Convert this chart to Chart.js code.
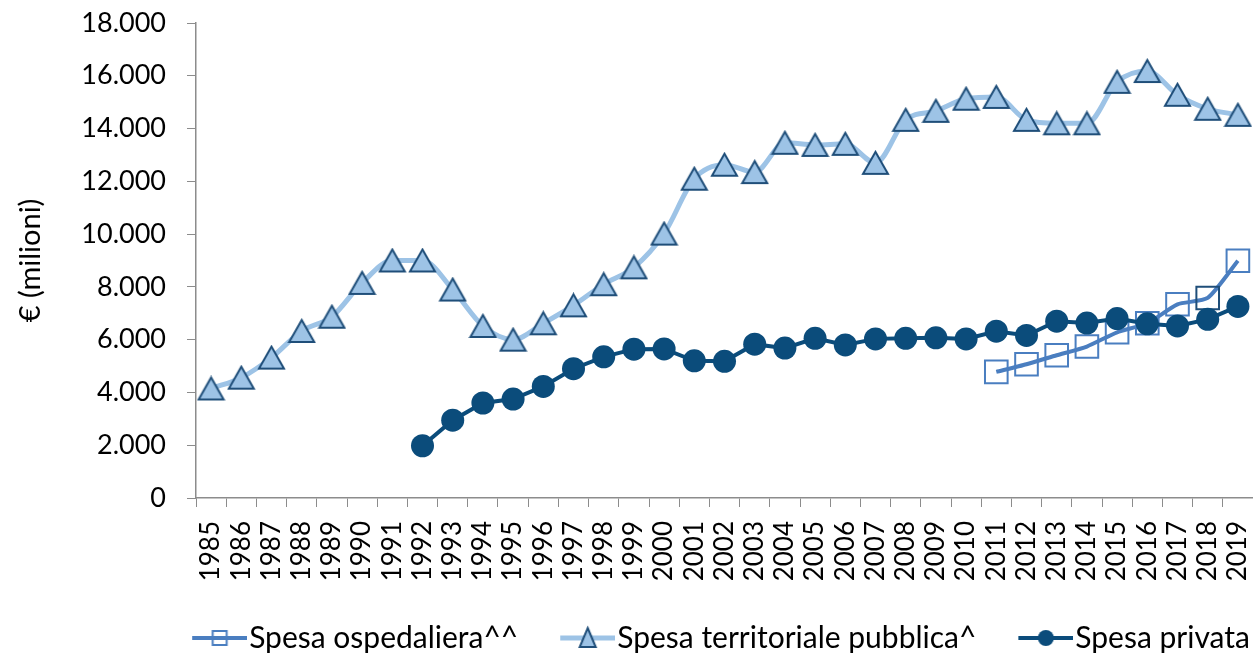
<!DOCTYPE html>
<html>
<head>
<meta charset="utf-8">
<script src="https://cdn.jsdelivr.net/npm/chart.js@4/dist/chart.umd.min.js"></script>
<style>
  html, body { margin: 0; padding: 0; background: #fff; }
  #wrap { width: 1253px; height: 655px; position: relative; }
</style>
</head>
<body>
<div id="wrap"><canvas id="chart"></canvas></div>
<script>
// Years on the x axis
const years = [
    "1985", "1986", "1987", "1988", "1989", "1990", "1991", "1992", "1993", "1994",
    "1995", "1996", "1997", "1998", "1999", "2000", "2001", "2002", "2003", "2004",
    "2005", "2006", "2007", "2008", "2009", "2010", "2011", "2012", "2013", "2014",
    "2015", "2016", "2017", "2018", "2019"
];

// Spesa ospedaliera^^ (from 2011)
const spesaOspedaliera = [
    null, null, null, null, null, null, null, null, null, null,
    null, null, null, null, null, null, null, null, null, null,
    null, null, null, null, null, null, 4780, 5070, 5410, 5740,
    6280, 6620, 7340, 7580, 8990
];

// Spesa territoriale pubblica^
const spesaTerritoriale = [
    4150, 4560, 5320, 6330, 6870, 8150, 9000, 9000, 7900, 6520,
    6000, 6620, 7300, 8100, 8740, 10020, 12100, 12630, 12350, 13460,
    13380, 13420, 12700, 14330, 14670, 15130, 15200, 14330, 14200, 14200,
    15770, 16180, 15280, 14750, 14520
];

// Spesa privata (from 1992)
const spesaPrivata = [
    null, null, null, null, null, null, null, 1980, 2950, 3600,
    3750, 4230, 4900, 5350, 5640, 5650, 5200, 5180, 5830, 5680,
    6050, 5800, 6030, 6050, 6070, 6030, 6320, 6160, 6700, 6630,
    6800, 6600, 6520, 6770, 7260
];

const yTicks = [0, 2000, 4000, 6000, 8000, 10000, 12000, 14000, 16000, 18000];

const FONT = "Lato, 'Open Sans', sans-serif";
const AXIS_GREY = "#8c8c8c";
const C_OSP = "#4a7ec0";
const C_TERR = "#9dc3e6";
const C_TERR_EDGE = "#1f4e79";
const C_PRIV = "#0b4c7b";

function fmtThousands(v) {
    return String(v).replace(/\B(?=(\d{3})+(?!\d))/g, ".");
}

// triangle marker centred on its box, like the spreadsheet markers
function triangleMarker(w, h) {
    const c = document.createElement("canvas");
    c.width = w + 4;
    c.height = h + 4;
    const g = c.getContext("2d");
    g.fillStyle = C_TERR;
    g.strokeStyle = C_TERR_EDGE;
    g.lineWidth = 2;
    g.lineJoin = "miter";
    g.beginPath();
    g.moveTo(c.width / 2, 2);
    g.lineTo(w + 2, h + 2);
    g.lineTo(2, h + 2);
    g.closePath();
    g.fill();
    g.stroke();
    return c;
}

// legend icon: line with the marker in the middle, drawn in the right part
// of the canvas so the icon sits just before the text
function legendIcon(kind) {
    const c = document.createElement("canvas");
    c.width = 104;
    c.height = 26;
    const g = c.getContext("2d");
    const x0 = 49, x1 = 104, cx = (x0 + x1) / 2, cy = 13;
    if (kind === "osp") {
        g.strokeStyle = C_OSP; g.lineWidth = 4;
        g.beginPath(); g.moveTo(x0, cy); g.lineTo(x1, cy); g.stroke();
        g.lineWidth = 2;
        g.strokeRect(cx - 7, cy - 7, 14, 14);
    } else if (kind === "terr") {
        g.strokeStyle = C_TERR; g.lineWidth = 5;
        g.beginPath(); g.moveTo(x0, cy); g.lineTo(x1, cy); g.stroke();
        g.fillStyle = C_TERR; g.strokeStyle = C_TERR_EDGE; g.lineWidth = 2;
        g.beginPath(); g.moveTo(cx, cy - 10); g.lineTo(cx + 8, cy + 9); g.lineTo(cx - 8, cy + 9); g.closePath();
        g.fill(); g.stroke();
    } else {
        g.strokeStyle = C_PRIV; g.lineWidth = 4;
        g.beginPath(); g.moveTo(x0, cy); g.lineTo(x1, cy); g.stroke();
        g.fillStyle = C_PRIV;
        g.beginPath(); g.arc(cx, cy, 8, 0, Math.PI * 2); g.fill();
    }
    return c;
}

const icons = [legendIcon("osp"), legendIcon("terr"), legendIcon("priv")];
const triMarker = triangleMarker(25, 22);

const ospBorders = years.map((y) => (y === "2018" ? C_TERR_EDGE : C_OSP));

const ctx = document.getElementById("chart").getContext("2d");
new Chart(ctx, {
    type: "line",
    data: {
        labels: years,
        datasets: [
            {
                label: "Spesa ospedaliera^^",
                data: spesaOspedaliera,
                borderColor: C_OSP,
                borderWidth: 4,
                tension: 0.2,
                pointStyle: "rect",
                pointRadius: 16,
                pointBorderWidth: 2,
                pointBorderColor: ospBorders,
                pointBackgroundColor: "rgba(255,255,255,0)",
                order: 2,
            },
            {
                label: "Spesa territoriale pubblica^",
                data: spesaTerritoriale,
                borderColor: C_TERR,
                borderWidth: 5,
                cubicInterpolationMode: "monotone",
                pointStyle: triMarker,
                pointRadius: 13,
                order: 1,
            },
            {
                label: "Spesa privata",
                data: spesaPrivata,
                borderColor: C_PRIV,
                borderWidth: 4,
                tension: 0,
                pointStyle: "circle",
                pointRadius: 11.5,
                pointBorderWidth: 0,
                pointBackgroundColor: C_PRIV,
                order: 0,
            },
        ],
    },
    options: {
        responsive: true,
        maintainAspectRatio: false,
        animation: false,
        layout: {
            autoPadding: false,
            padding: { top: 23, right: -3, left: 0, bottom: -8 },
        },
        scales: {
            x: {
                offset: true,
                grid: {
                    offset: true,
                    drawOnChartArea: false,
                    drawTicks: true,
                    tickLength: 9,
                    color: AXIS_GREY,
                },
                border: { color: AXIS_GREY, width: 1.5 },
                ticks: {
                    autoSkip: false,
                    minRotation: 90,
                    maxRotation: 90,
                    padding: 14,
                    color: "#000",
                    font: { family: FONT, size: 26 },
                },
                afterFit: function (scale) {
                    scale.height = 119;
                    scale.paddingLeft = 0;
                    scale.paddingRight = 0;
                },
            },
            y: {
                min: 0,
                max: 18000,
                afterBuildTicks: function (scale) {
                    scale.ticks = yTicks.map((v) => ({ value: v }));
                },
                grid: {
                    drawOnChartArea: false,
                    drawTicks: true,
                    tickLength: 9,
                    color: AXIS_GREY,
                },
                border: { color: AXIS_GREY, width: 1.5 },
                ticks: {
                    padding: 21,
                    color: "#000",
                    font: { family: FONT, size: 27 },
                    callback: function (value) {
                        return fmtThousands(value);
                    },
                },
                title: {
                    display: true,
                    text: "€ (milioni)",
                    color: "#000",
                    padding: { top: 13, bottom: 0 },
                    font: { family: FONT, size: 29 },
                },
                afterFit: function (scale) {
                    scale.width = 196;
                    scale.paddingTop = 0;
                    scale.paddingBottom = 0;
                },
            },
        },
        plugins: {
            legend: {
                position: "bottom",
                align: "end",
                labels: {
                    usePointStyle: true,
                    pointStyleWidth: 78,
                    padding: 6,
                    color: "#000",
                    font: { family: FONT, size: 30 },
                    generateLabels: function (chart) {
                        return chart.data.datasets.map((ds, i) => ({
                            text: ds.label,
                            pointStyle: icons[i],
                            fillStyle: "transparent",
                            strokeStyle: "transparent",
                            lineWidth: 0,
                            hidden: false,
                            datasetIndex: i,
                        }));
                    },
                },
            },
            tooltip: { enabled: false },
        },
    },
});
</script>
</body>
</html>
